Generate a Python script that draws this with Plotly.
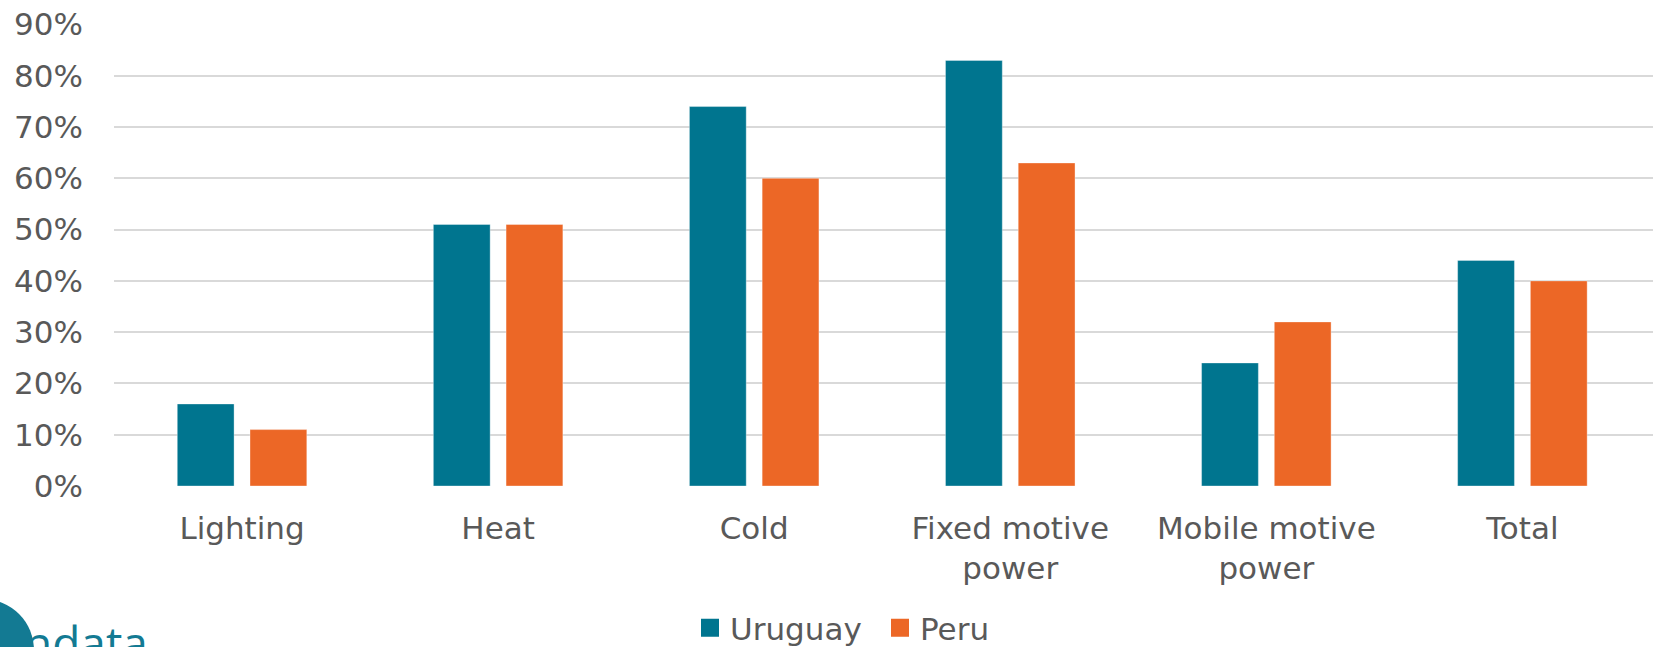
import plotly.graph_objects as go

# Share of each end use, by country
categories = ["Lighting", "Heat", "Cold", "Fixed motive<br>power", "Mobile motive<br>power", "Total"]
uruguay = [0.16, 0.51, 0.74, 0.83, 0.24, 0.44]
peru = [0.11, 0.51, 0.60, 0.63, 0.32, 0.40]
series_names = ["Uruguay", "Peru"]
series_colors = ["#00758F", "#EC6726"]
y_ticks = [0, 0.1, 0.2, 0.3, 0.4, 0.5, 0.6, 0.7, 0.8, 0.9]
y_tick_text = ["0%", "10%", "20%", "30%", "40%", "50%", "60%", "70%", "80%", "90%"]
logo_text = "ndata"

W, H = 1653, 647
ML, MR, MT, MB = 114, 0, 24, 161
PW, PH = W - ML - MR, H - MT - MB

def px_x(x):
    return (x - ML) / PW

def px_y(y):
    return (H - MB - y) / PH

FONT = "DejaVu Sans, Verdana, sans-serif"
TXT = "#595959"

fig = go.Figure()
for name, vals, col in zip(series_names, [uruguay, peru], series_colors):
    fig.add_trace(go.Bar(
        x=list(range(len(categories))), y=vals, name=name,
        marker=dict(color=col, line=dict(color="rgba(255,255,255,0.35)", width=1)),
        showlegend=False,
    ))
# legend entries with square keys
for name, col in zip(series_names, series_colors):
    fig.add_trace(go.Scatter(
        x=[None], y=[None], mode="markers", name=name,
        marker=dict(symbol="square", size=16, color=col, line=dict(color=col, width=2)),
    ))

fig.update_layout(
    width=W, height=H,
    margin=dict(l=ML, r=MR, t=MT, b=MB, pad=0, autoexpand=False),
    paper_bgcolor="white", plot_bgcolor="white",
    barmode="group", bargap=0.432, bargroupgap=0.219,
    font=dict(family=FONT, size=31, color=TXT),
    showlegend=True,
    legend=dict(
        orientation="h", x=px_x(690), xanchor="left", y=px_y(628), yanchor="middle",
        font=dict(family=FONT, size=31, color=TXT),
        bgcolor="rgba(0,0,0,0)", itemclick=False,
        entrywidth=145, entrywidthmode="pixels",
    ),
    xaxis=dict(
        tickmode="array", tickvals=list(range(len(categories))), ticktext=categories,
        range=[-0.5, 5.51], showgrid=False, zeroline=False, showline=False,
        ticks="", ticklabelstandoff=21, automargin=False,
        tickfont=dict(family=FONT, size=31, color=TXT),
    ),
    yaxis=dict(
        tickmode="array", tickvals=y_ticks, ticktext=y_tick_text,
        range=[0, 0.901], showgrid=True, gridcolor="#D9D9D9", gridwidth=2,
        zeroline=False, showline=False, ticks="", ticklabelstandoff=30,
        automargin=False,
        tickfont=dict(family=FONT, size=31, color=TXT),
    ),
)

# logo in the bottom-left corner
fig.add_shape(
    type="circle", xref="paper", yref="paper",
    x0=px_x(-68), x1=px_x(34), y0=px_y(701), y1=px_y(599),
    fillcolor="#137A93", line=dict(width=0), layer="above",
)
fig.add_annotation(
    text=logo_text, xref="paper", yref="paper",
    x=px_x(22), y=px_y(609), xanchor="left", yanchor="top",
    showarrow=False, font=dict(family="Open Sans, sans-serif", size=46, color="#137A93"),
)

fig.write_html("out.html")
